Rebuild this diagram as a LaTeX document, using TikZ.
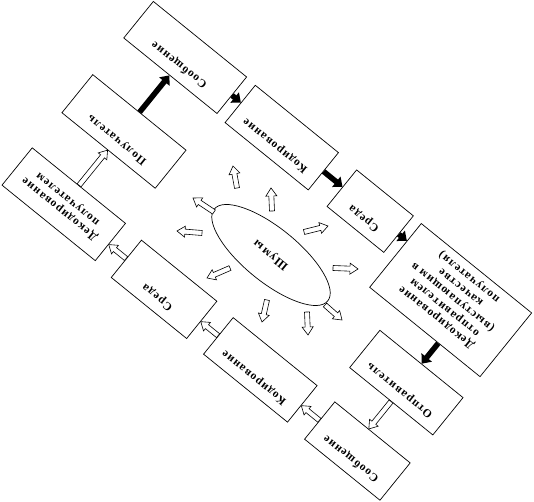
\documentclass[tikz,border=0pt]{standalone}
\usepackage{fontspec}
\setmainfont{Liberation Serif}
\usetikzlibrary{calc,arrows.meta,shapes.geometric}
\tikzset{
  stagebox/.style={draw, line width=0.7bp, minimum height=48bp, inner sep=0pt},
  stagetext/.style={anchor=north, inner sep=0pt, yshift=-9bp, align=center,
                    font=\fontsize{11.5bp}{13bp}\selectfont\bfseries\addfontfeature{LetterSpace=10}},
  noisebox/.style={draw, ellipse, line width=0.7bp, minimum width=146bp, minimum height=54bp,
                   font=\fontsize{12bp}{13bp}\selectfont\bfseries\addfontfeature{LetterSpace=12}},
  blackarr/.style={line width=5.5bp, -{Triangle[length=8bp, width=13bp]}},
  hollowline/.style={line width=0.6bp, fill=white, line join=miter}
}
% hollow block arrow from #1 to #2
\newcommand{\hollowarr}[2]{%
  \coordinate (hb) at ($(#2)!8bp!(#1)$);
  \draw[hollowline] ($(#1)!2.5bp!90:(#2)$) -- ($(hb)!2.5bp!-90:(#1)$)
    -- ($(hb)!5.5bp!-90:(#1)$) -- (#2) -- ($(hb)!5.5bp!90:(#1)$)
    -- ($(hb)!2.5bp!90:(#1)$) -- ($(#1)!2.5bp!-90:(#2)$) -- cycle;}

\begin{document}
\begin{tikzpicture}[x=1bp, y=1bp]
  \useasboundingbox (0,0) rectangle (534,502);

  %% whole cycle, turned
  \begin{scope}[shift={(271,247)}, rotate=141, transform shape]
    % first loop
    \node[stagebox, minimum width=107bp, label={[stagetext]north:Отправитель}] (sender) at (-185.5,14) {};
    \node[stagebox, minimum width=97bp, label={[stagetext]north:Сообщение}] (msg1) at (-190.5,98) {};
    \node[stagebox, minimum width=108bp, minimum height=47bp, label={[stagetext]north:Кодирование}] (code1) at (-64,96) {};
    \node[stagebox, minimum width=97bp, label={[stagetext]north:Среда}] (medium1) at (61.5,94) {};
    \node[stagebox, minimum width=120bp,
          label={[stagetext, yshift=-4bp]north:{Декодирование\\получателем}}] (decrecv) at (193,91) {};
    \node[stagebox, minimum width=120bp, minimum height=49bp, label={[stagetext]north:Получатель}] (receiver) at (192,-3.5) {};
    % second loop
    \node[stagebox, minimum width=120bp, minimum height=47bp, label={[stagetext]north:Сообщение}] (msg2) at (191,-99.5) {};
    \node[stagebox, minimum width=107bp, label={[stagetext]north:Кодирование}] (code2) at (65.5,-98) {};
    \node[stagebox, minimum width=73bp, minimum height=47bp, label={[stagetext]north:Среда}] (medium2) at (-49.5,-96.5) {};
    \node[stagebox, minimum width=142bp, minimum height=82bp,
          label={[stagetext, yshift=-5bp]north:{Декодирование\\отправителем\\(выступающим в\\качестве\\получателя)}}] (decsend) at (-168,-78) {};

    % noise
    \node[noisebox] (noise) at (0,0) {Шумы};

    % hollow connectors
    \coordinate (c1) at ($(msg1.south west)!(sender.north)!(msg1.south east)$);
    \hollowarr{sender.north}{c1}
    \coordinate (c2) at ($(code1.north west)!(msg1.east)!(code1.south west)$);
    \hollowarr{msg1.east}{c2}
    \coordinate (c3) at ($(medium1.north west)!(code1.east)!(medium1.south west)$);
    \hollowarr{code1.east}{c3}
    \coordinate (c4) at ($(decrecv.north west)!(medium1.east)!(decrecv.south west)$);
    \hollowarr{medium1.east}{c4}
    \coordinate (c5) at ($(receiver.north west)!(decrecv.south)!(receiver.north east)$);
    \hollowarr{decrecv.south}{c5}

    % black connectors
    \draw[blackarr] (receiver.south) -- ($(msg2.north west)!(receiver.south)!(msg2.north east)$);
    \draw[blackarr] (msg2.west) -- ($(code2.north east)!(msg2.west)!(code2.south east)$);
    \draw[blackarr] (code2.west) -- ($(medium2.north east)!(code2.west)!(medium2.south east)$);
    \draw[blackarr] (medium2.west) -- ($(decsend.north east)!(medium2.west)!(decsend.south east)$);
    \draw[blackarr] ($(decsend.north west)!(sender.south)!(decsend.north east)$) -- (sender.south);
  \end{scope}

  % arrows round the noise
  \foreach \tx/\ty/\hx/\hy [count=\i] in {
      237/314/233/336, 272/291/271/314, 214/290/193/304, 202/269/177/271,
      304/270/328/276, 333/234/358/233, 230/234/207/224, 267/202/262/180,
      307/190/308/167, 325/197/342/182}{
    \coordinate (nt\i) at (\tx,\ty);
    \coordinate (nh\i) at (\hx,\hy);
    \hollowarr{nt\i}{nh\i}
  }
\end{tikzpicture}
\end{document}
